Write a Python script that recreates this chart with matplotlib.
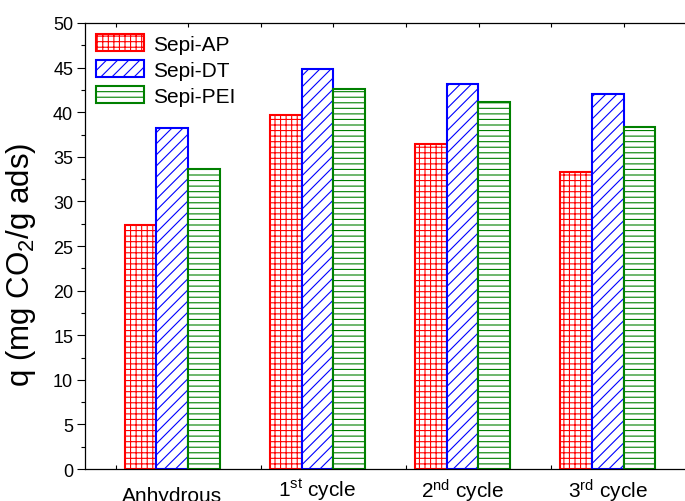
import matplotlib
matplotlib.use('Agg')
import matplotlib.pyplot as plt
import matplotlib.transforms as mtransforms
import numpy as np
from matplotlib.ticker import MultipleLocator, FixedLocator

plt.rcParams['font.family'] = ['Liberation Sans', 'DejaVu Sans']
plt.rcParams['mathtext.default'] = 'regular'
plt.rcParams['hatch.linewidth'] = 0.8

# CO2 uptake per sorbent, per stage
groups = ['Anhydrous', '1$^{st}$ cycle', '2$^{nd}$ cycle', '3$^{rd}$ cycle']
series_names = ['Sepi-AP', 'Sepi-DT', 'Sepi-PEI']
sepi_ap = [27.4, 39.7, 36.4, 33.3]
sepi_dt = [38.2, 44.8, 43.2, 42.0]
sepi_pei = [33.6, 42.6, 41.1, 38.3]

colors = ['red', 'blue', 'green']
hatches = ['+++', '///', '---']

fig = plt.figure(figsize=(6.85, 5.02), dpi=100)
# axes run past the right edge of the figure, like the original origin plot
ax = fig.add_axes([0.1241, 0.0637, 0.8978, 0.8885])

x = np.arange(len(groups)) + 1.39
w = 0.218
for i, (vals, name) in enumerate(zip([sepi_ap, sepi_dt, sepi_pei], series_names)):
    ax.bar(x + (i - 1) * w, vals, w, facecolor='white', edgecolor=colors[i],
           hatch=hatches[i], linewidth=1.5, label=name, zorder=2)

ax.set_xlim(0.79, 5.025)
ax.set_ylim(0, 50)

# y axis
ax.yaxis.set_major_locator(MultipleLocator(5))
ax.yaxis.set_minor_locator(MultipleLocator(2.5))
ax.tick_params(axis='y', which='major', direction='out', length=5.5, width=0.8,
               labelsize=13, pad=3)
ax.tick_params(axis='y', which='minor', direction='out', length=3, width=0.8)
ax.set_ylabel('q (mg CO$_2$/g ads)', fontsize=22.5)
ax.yaxis.set_label_coords(-0.076, 0.46)

# x axis: labels at group centres, small tick marks on a half-unit grid
ax.set_xticks(x)
ax.set_xticklabels(groups, fontsize=15)
ax.xaxis.set_minor_locator(FixedLocator(np.arange(1, 5.01, 0.5)))
ax.tick_params(axis='x', which='major', length=0, pad=12.5)
ax.tick_params(axis='x', which='minor', direction='in', length=3, width=0.8,
               top=True, bottom=True)

# labels with superscripts sit a little higher
lift = mtransforms.ScaledTranslation(0, 10 / 100, fig.dpi_scale_trans)
for lab in ax.get_xticklabels()[1:]:
    lab.set_transform(lab.get_transform() + lift)

for s in ax.spines.values():
    s.set_linewidth(0.9)

ax.legend(loc='upper left', bbox_to_anchor=(96 / 685, 1 - 35 / 502),
          bbox_transform=fig.transFigure, frameon=False, fontsize=15,
          handlelength=2.3, handleheight=0.9, handletextpad=0.45,
          labelspacing=0.3, borderpad=0, borderaxespad=0)

fig.savefig('out.png', dpi=100)
